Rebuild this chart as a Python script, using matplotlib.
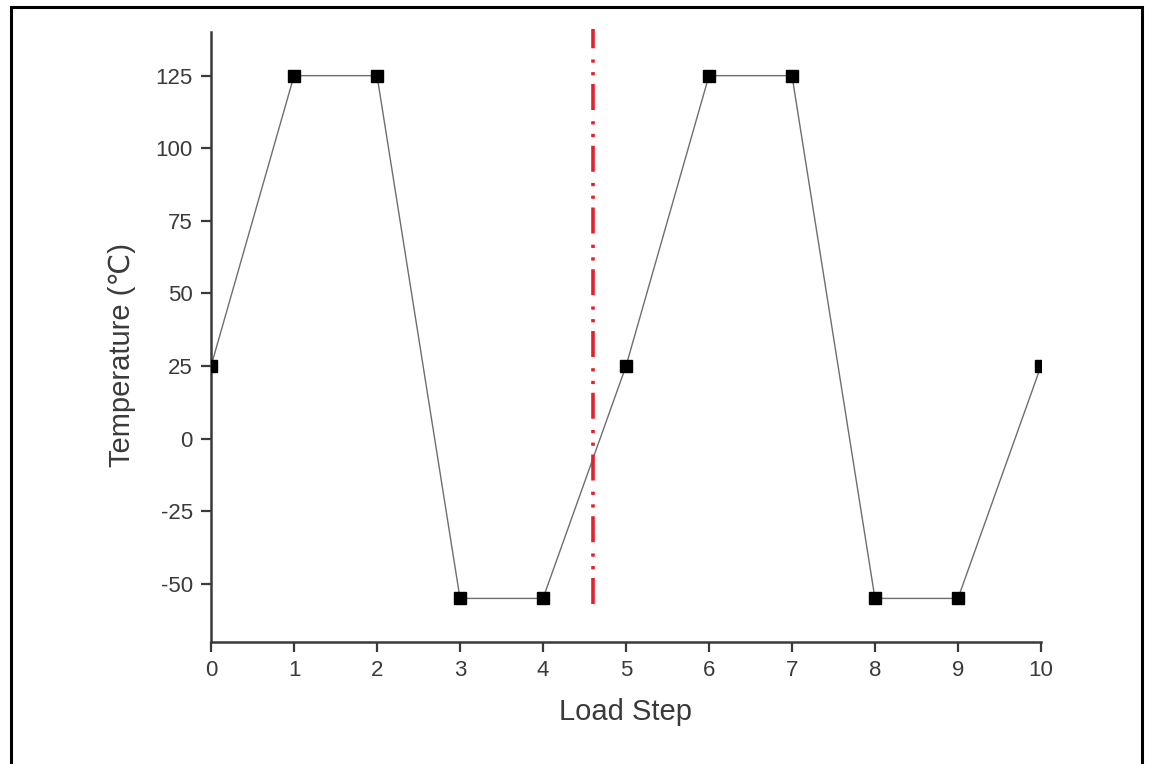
import matplotlib
matplotlib.use('Agg')
import matplotlib.pyplot as plt
from matplotlib.patches import Rectangle

plt.rcParams['font.family'] = ['Liberation Sans', 'DejaVu Sans']
plt.rcParams['axes.unicode_minus'] = False

load_step = [0, 1, 2, 3, 4, 5, 6, 7, 8, 9, 10]
temperature = [25, 125, 125, -55, -55, 25, 125, 125, -55, -55, 25]
cut_step = 4.6
cut_span = [-57, 141]
y_ticks = [-50, -25, 0, 25, 50, 75, 100, 125]

fig = plt.figure(figsize=(11.52, 7.64), dpi=100)
ax = fig.add_axes([0.1832, 0.1597, 0.9036 - 0.1832, 0.958 - 0.1597])

ax.plot(load_step, temperature, color='#6e6e6e', lw=1.0, zorder=2)
ax.plot(load_step, temperature, ls='none', marker='s', ms=8.5,
        color='black', zorder=3)

# dash-dot-dot marker line for the load split
ax.plot([cut_step, cut_step], cut_span, color='#e3202c', lw=2.6,
        ls=(0, (7.2, 2.4, 0.9, 2.6, 0.9, 3.1)), clip_on=False, zorder=4)

ax.set_xlim(0, 10)
ax.set_ylim(-70, 140)
ax.set_xticks(load_step)
ax.set_yticks(y_ticks)

for side in ['top', 'right']:
    ax.spines[side].set_visible(False)
for side in ['left', 'bottom']:
    ax.spines[side].set_linewidth(1.8)
    ax.spines[side].set_color('#3a3a3a')

ax.tick_params(direction='out', length=7, width=1.6, color='#3a3a3a',
               labelsize=16, labelcolor='#3a3a3a', pad=6)

ax.set_xlabel('Load Step', fontsize=21, color='#3a3a3a', labelpad=12)
ax.set_ylabel('Temperature (\u2103)', fontsize=21, color='#3a3a3a')
ax.yaxis.set_label_coords(-0.09, 0.47)

fig.patches.append(Rectangle((0.0095, -0.02), 0.9913 - 0.0095, 0.9908 + 0.02,
                             transform=fig.transFigure, fill=False,
                             edgecolor='black', lw=2.2))

fig.savefig('out.png', dpi=100)
